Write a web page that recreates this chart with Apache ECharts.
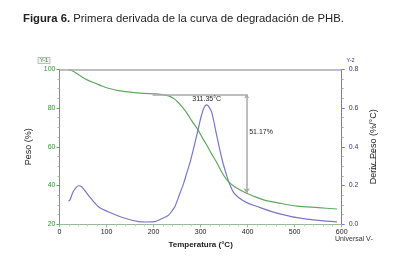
<!DOCTYPE html>
<html>
<head>
<meta charset="utf-8">
<script src="https://cdn.jsdelivr.net/npm/echarts@6/dist/echarts.min.js"></script>
<style>
  html, body { margin: 0; padding: 0; background: #fff; }
  #chart { width: 400px; height: 272px; }
</style>
</head>
<body>
<div id="chart"></div>
<script>
// Peso (%) vs temperatura
var pesoTemp = [19, 30, 47, 60, 76, 90, 104, 125, 146, 171, 203, 214, 230, 242, 252, 263, 272, 281, 295, 304, 313, 323, 334, 346, 359, 375, 398, 415, 434, 470, 505, 550, 590];
var pesoVal  = [100, 98.9, 96.2, 94.4, 92.8, 91.4, 90.2, 89.0, 88.3, 87.7, 87.3, 87.1, 86.4, 85.0, 83.0, 80.0, 77.0, 73.5, 68.5, 64.5, 60.9, 56.5, 52.0, 46.5, 42.0, 39.0, 36.0, 34.3, 32.6, 30.8, 29.4, 28.6, 27.9];

// Deriv. Peso (%/°C) vs temperatura
var derivTemp = [19, 22, 29, 36, 40, 47, 61, 83, 111, 139, 168, 185, 203, 214, 231, 240, 246, 256, 263, 270, 278, 292, 302, 308, 313, 318, 324, 334, 345, 355, 362, 370, 380, 398, 420, 448, 475, 505, 550, 590];
var derivVal  = [0.12, 0.125, 0.168, 0.192, 0.199, 0.194, 0.151, 0.091, 0.057, 0.031, 0.014, 0.012, 0.014, 0.025, 0.045, 0.072, 0.095, 0.16, 0.205, 0.26, 0.323, 0.461, 0.564, 0.605, 0.616, 0.605, 0.575, 0.461, 0.341, 0.255, 0.205, 0.165, 0.14, 0.112, 0.092, 0.068, 0.05, 0.034, 0.02, 0.013];

// anotaciones: pico y perdida de masa
var picoTexto = '311.35°C';
var perdidaTexto = '51.17%';
var tInicio = 198, tFin = 398;
var pesoInicio = 87.1, pesoFin = 36.0;

var xTicks = [0, 100, 200, 300, 400, 500, 600];

var verde = '#5fa862';
var azul = '#7b76cc';
var gris = '#a8a8a8';

var chart = echarts.init(document.getElementById('chart'));

function pares(xs, ys) {
    return xs.map(function (x, i) { return [x, ys[i]]; });
}

var option = {
    animation: false,
    backgroundColor: '#fff',
    textStyle: { fontFamily: 'Liberation Sans, Arial, sans-serif' },
    title: {
        left: 18,
        top: 8,
        text: '{b|Figura 6.} Primera derivada de la curva de degradación de PHB.',
        textStyle: {
            fontFamily: 'Liberation Sans Narrow, Arial Narrow, Liberation Sans, sans-serif',
            fontSize: 11.3,
            fontWeight: 'normal',
            color: '#222',
            rich: {
                b: {
                    fontFamily: 'Liberation Sans Narrow, Arial Narrow, Liberation Sans, sans-serif',
                    fontSize: 11.3,
                    fontWeight: 'bold',
                    color: '#222'
                }
            }
        }
    },
    grid: {
        left: 59.5,
        right: 58.3,
        top: 69.3,
        bottom: 47.7
    },
    xAxis: {
        type: 'value',
        min: 0,
        max: 600,
        interval: 100,
        name: 'Temperatura (°C)',
        nameLocation: 'middle',
        nameGap: 16,
        nameTextStyle: { fontSize: 8, fontWeight: 'bold', color: '#222' },
        axisLine: { lineStyle: { color: '#9cb89c', width: 1 } },
        axisTick: { length: 3, lineStyle: { color: '#9cb89c' } },
        minorTick: { show: true, splitNumber: 5, length: 2, lineStyle: { color: '#b8ccb8' } },
        splitLine: { show: false },
        axisLabel: {
            fontSize: 7, color: '#222', margin: 4,
            formatter: function (v) { return xTicks.indexOf(v) >= 0 ? String(v) : ''; }
        }
    },
    yAxis: [
        {
            type: 'value',
            min: 20,
            max: 100,
            interval: 20,
            position: 'left',
            name: 'Peso (%)',
            nameLocation: 'middle',
            nameRotate: 90,
            nameGap: 23,
            nameTextStyle: { fontSize: 9, color: '#222' },
            axisLine: { show: true, lineStyle: { color: verde, width: 1 } },
            axisTick: { show: true, length: 3, lineStyle: { color: verde } },
            minorTick: { show: true, splitNumber: 4, length: 2, lineStyle: { color: '#9cc89c' } },
            splitLine: { show: false },
            axisLabel: { fontSize: 7, color: '#3a8f3e', margin: 4 }
        },
        {
            type: 'value',
            min: 0,
            max: 0.8,
            interval: 0.2,
            position: 'right',
            name: 'Deriv. Peso (%/°C)',
            nameLocation: 'middle',
            nameRotate: 90,
            nameGap: 26,
            nameTextStyle: { fontSize: 9, color: '#222' },
            axisLine: { show: true, lineStyle: { color: azul, width: 1 } },
            axisTick: { show: true, length: 3, lineStyle: { color: azul } },
            minorTick: { show: true, splitNumber: 4, length: 2, lineStyle: { color: '#aaa8dd' } },
            splitLine: { show: false },
            axisLabel: {
                fontSize: 7, color: '#33338a', margin: 7,
                formatter: function (v) { return v.toFixed(1); }
            }
        }
    ],
    series: [
        {
            name: 'Peso',
            type: 'line',
            yAxisIndex: 0,
            data: pares(pesoTemp, pesoVal),
            smooth: 0.3,
            showSymbol: false,
            lineStyle: { color: verde, width: 1.2 },
            z: 3,
            markLine: {
                silent: true,
                symbol: 'none',
                label: { show: false },
                lineStyle: { color: gris, width: 1.5, type: 'solid' },
                data: [
                    [{ coord: [0, 100], symbol: 'none' }, { coord: [600, 100], symbol: 'none' }],
                    [
                        { coord: [tInicio, pesoInicio], symbol: 'none' },
                        { coord: [tFin, pesoInicio], symbol: 'none' }
                    ],
                    [
                        { coord: [tFin, pesoInicio], symbol: 'arrow', symbolSize: 4 },
                        { coord: [tFin, pesoFin], symbol: 'arrow', symbolSize: 5 }
                    ]
                ]
            },
            markPoint: {
                silent: true,
                symbol: 'circle',
                symbolSize: 1,
                itemStyle: { color: 'rgba(0,0,0,0)' },
                data: [
                    {
                        coord: [313, pesoInicio],
                        label: { show: true, formatter: picoTexto, position: 'inside', offset: [0, 5], fontSize: 7, color: '#222' }
                    },
                    {
                        coord: [tFin, (pesoInicio + pesoFin) / 2 + 6],
                        label: { show: true, formatter: perdidaTexto, position: 'right', distance: 2, fontSize: 7, color: '#222' }
                    }
                ]
            }
        },
        {
            name: 'Deriv. Peso',
            type: 'line',
            yAxisIndex: 1,
            data: pares(derivTemp, derivVal),
            smooth: 0.3,
            showSymbol: false,
            lineStyle: { color: azul, width: 1.2 },
            z: 2
        }
    ],
    graphic: [
        {
            type: 'rect',
            shape: { x: 38, y: 57.5, width: 12, height: 6 },
            style: { fill: '#eef3ee', stroke: '#999', lineWidth: 0.6 }
        },
        {
            type: 'text',
            x: 44, y: 60.5,
            style: { text: 'Y-1', fontSize: 5.5, fill: '#2f7f33', align: 'center', verticalAlign: 'middle', fontFamily: 'Liberation Sans, sans-serif' }
        },
        {
            type: 'text',
            x: 350.5, y: 60,
            style: { text: 'Y-2', fontSize: 5.5, fill: '#33338a', align: 'center', verticalAlign: 'middle', fontFamily: 'Liberation Sans, sans-serif' }
        },
        {
            type: 'text',
            x: 335, y: 239,
            style: { text: 'Universal V-', fontSize: 7, fill: '#333', verticalAlign: 'middle', fontFamily: 'Liberation Sans, sans-serif' }
        },
        {
            type: 'line',
            shape: { x1: 375.5, y1: 150, x2: 375.5, y2: 170 },
            style: { stroke: '#d9534f', lineWidth: 1 }
        }
    ]
};

chart.setOption(option);
</script>
</body>
</html>
